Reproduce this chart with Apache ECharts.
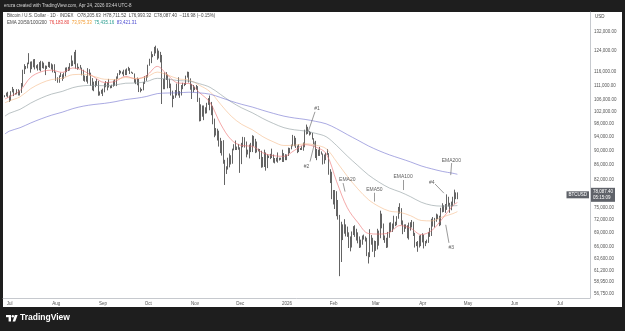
<!DOCTYPE html>
<html>
<head>
<meta charset="utf-8">
<script src="https://cdn.jsdelivr.net/npm/echarts@6.0.0/dist/echarts.min.js"></script>
<style>
html, body { margin: 0; padding: 0; background: #1e1e1e; }
#chart { width: 625px; height: 331px; }
</style>
</head>
<body>
<div id="chart"></div>
<script>
// daily BTCUSD candles in thousands of USD, one per day from firstDay on
const firstDay = '2025-06-28';
const firstOpen = 107.1;
const closes = [
  107.3, 108.4, 107.1,
  105.7, 108.8, 109.6, 108.0, 108.2, 109.2, 108.3, 108.9, 111.3, 115.9, 117.5, 117.4, 119.1, 119.8, 117.7, 118.7, 119.3, 117.9, 117.9, 117.3, 117.4, 119.9, 118.5, 118.4, 117.6, 117.9, 119.4, 118.0, 117.8, 117.8, 115.8,
  113.3, 112.5, 114.2, 115.1, 114.1, 115.0, 117.5, 116.7, 116.5, 119.3, 118.7, 120.2, 123.3, 118.3, 117.4, 117.5, 117.5, 116.3, 112.9, 114.3, 112.5, 116.9, 115.4, 113.5, 110.1, 111.8, 111.3, 112.6, 108.4, 108.8, 108.2,
  109.2, 111.2, 112.1, 110.7, 110.7, 110.2, 111.1, 112.0, 111.5, 113.9, 115.5, 116.1, 115.9, 115.3, 115.4, 116.8, 116.5, 117.1, 115.7, 115.7, 115.3, 112.7, 112.0, 113.3, 109.0, 109.6, 109.6, 112.2, 114.4, 114.1,
  118.6, 120.6, 122.3, 122.4, 123.5, 124.7, 121.4, 123.3, 121.7, 113.2, 110.7, 115.2, 115.3, 113.0, 110.8, 108.2, 106.5, 107.2, 108.6, 110.6, 108.4, 107.6, 110.1, 111.0, 111.6, 114.5, 114.1, 112.9, 110.0, 108.3, 109.6,
  110.1, 110.6, 106.5, 101.6, 103.9, 101.3, 103.4, 102.3, 104.7, 106.0, 103.0, 101.7, 99.7, 94.4, 95.5, 94.2, 92.2, 92.9, 91.5, 86.6, 85.1, 84.6, 86.8, 88.3, 87.3, 90.5, 91.3, 90.9, 90.8, 90.4,
  86.3, 91.3, 93.5, 92.1, 89.4, 89.3, 90.4, 90.6, 92.7, 92.0, 92.5, 90.3, 90.3, 88.2, 86.4, 87.8, 86.2, 85.5, 88.1, 88.3, 88.6, 88.5, 87.4, 87.6, 87.2, 87.3, 87.8, 87.8, 87.1, 88.4, 87.5,
  88.7, 89.9, 90.6, 91.4, 93.9, 93.7, 91.3, 91.0, 90.6, 90.5, 90.8, 91.2, 95.3, 97.0, 95.6, 95.5, 95.1, 93.6, 92.6, 88.3, 89.4, 89.5, 89.5, 89.2, 86.6, 88.2, 89.1, 89.2, 84.6, 84.1, 78.6,
  76.9, 78.7, 75.7, 73.1, 63.0, 70.5, 69.3, 70.6, 70.1, 68.8, 67.0, 66.2, 68.8, 69.8, 68.8, 68.9, 67.5, 66.4, 66.9, 67.9, 68.0, 67.6, 64.6, 64.1, 67.9, 67.4, 65.9, 66.9,
  65.8, 68.9, 68.2, 72.8, 70.9, 68.1, 67.3, 66.9, 68.5, 70.3, 70.7, 70.4, 71.2, 71.0, 72.6, 74.8, 74.1, 71.4, 69.9, 70.5, 70.5, 68.2, 70.9, 70.6, 71.3, 68.9, 66.4, 66.7, 66.3, 68.0, 68.2,
  68.0, 66.9, 66.9, 67.3, 69.0, 68.8, 71.9, 71.3, 72.1, 73.0, 72.6, 71.0, 74.5, 74.6, 75.1, 74.6, 77.2, 75.7, 75.3, 75.8, 76.3, 78.6, 78.20563, 78.0874
];
const highs = [
  107.6, 108.5, 108.8,
  107.5, 109.0, 110.5, 109.8, 108.4, 109.7, 109.7, 109.2, 111.9, 116.8, 118.9, 118.2, 119.5, 123.2, 119.9, 120.0, 120.8, 120.9, 118.5, 118.9, 119.7, 120.2, 120.0, 119.5, 118.4, 118.3, 119.8, 119.8, 119.2, 118.8, 118.9,
  116.1, 114.0, 114.7, 115.7, 115.1, 115.7, 117.6, 117.7, 117.9, 119.3, 122.3, 120.3, 123.7, 124.5, 119.2, 117.9, 118.6, 117.6, 116.8, 114.6, 114.5, 117.4, 117.0, 115.7, 113.7, 112.4, 112.6, 113.4, 112.7, 108.9, 109.5,
  109.9, 111.8, 112.6, 112.2, 113.4, 110.9, 111.3, 112.8, 113.3, 114.3, 115.5, 116.7, 116.4, 116.1, 116.8, 116.9, 117.3, 117.9, 117.4, 116.1, 115.8, 115.4, 113.3, 113.9, 113.4, 110.3, 109.8, 112.3, 114.4, 114.8,
  118.7, 121.0, 123.9, 122.8, 125.7, 126.2, 125.1, 124.2, 123.7, 122.5, 113.4, 115.8, 115.9, 115.0, 113.5, 111.7, 109.2, 107.5, 109.4, 111.7, 114.0, 109.0, 111.2, 112.0, 111.9, 114.6, 116.1, 116.0, 113.6, 111.6, 111.2,
  110.6, 111.2, 110.8, 106.7, 104.5, 104.1, 104.1, 103.5, 105.0, 106.6, 107.5, 105.3, 104.0, 99.8, 96.8, 96.6, 96.0, 93.8, 92.9, 93.1, 87.4, 85.6, 88.0, 89.2, 88.7, 90.6, 91.9, 93.0, 91.2, 92.0,
  91.0, 92.3, 94.1, 94.0, 92.7, 90.3, 91.8, 92.3, 94.6, 94.4, 93.5, 92.7, 90.6, 90.5, 90.0, 88.2, 90.3, 89.5, 89.0, 88.6, 89.1, 90.6, 88.9, 87.9, 88.0, 89.5, 88.0, 88.0, 90.3, 89.3, 89.0,
  88.9, 90.9, 90.8, 91.8, 94.7, 94.4, 93.8, 91.5, 91.9, 90.8, 91.3, 92.4, 96.3, 97.9, 97.2, 95.9, 95.6, 95.3, 93.7, 92.9, 90.5, 90.3, 91.1, 89.8, 89.2, 88.9, 89.4, 90.5, 89.3, 84.8, 84.1,
  79.3, 79.3, 79.0, 76.8, 73.2, 71.6, 71.0, 72.2, 71.0, 70.5, 69.2, 68.3, 69.4, 70.6, 70.8, 70.0, 69.2, 68.3, 67.6, 68.5, 68.7, 68.3, 68.0, 64.9, 69.9, 68.6, 68.0, 67.4,
  67.3, 70.0, 69.6, 74.2, 73.5, 71.2, 68.5, 68.0, 69.3, 71.4, 71.5, 71.2, 73.0, 71.6, 72.9, 75.1, 76.0, 74.8, 71.9, 71.0, 71.0, 70.8, 71.4, 71.5, 72.0, 71.6, 69.1, 67.1, 67.3, 68.5, 68.6,
  69.0, 68.7, 67.3, 67.6, 69.3, 70.2, 72.3, 72.7, 72.5, 73.5, 73.3, 73.0, 74.9, 76.0, 75.5, 75.8, 78.2, 77.6, 76.1, 76.4, 77.6, 79.4, 78.7, 78.71152
];
const lows = [
  106.9, 107.2, 106.8,
  105.3, 105.6, 108.6, 107.3, 107.8, 107.9, 107.5, 107.5, 108.4, 110.6, 115.2, 117.0, 117.3, 118.9, 115.7, 117.0, 117.7, 116.9, 117.3, 116.5, 116.6, 116.2, 117.4, 117.2, 114.8, 117.1, 117.8, 117.5, 116.9, 115.8, 115.6,
  112.7, 112.0, 112.0, 114.1, 112.7, 113.4, 114.3, 115.9, 116.3, 116.5, 118.1, 118.2, 118.9, 117.2, 116.8, 117.2, 117.2, 114.7, 112.7, 112.4, 112.4, 111.7, 114.7, 110.9, 109.3, 109.0, 110.4, 110.9, 107.4, 107.5, 108.1,
  107.3, 108.6, 110.4, 109.3, 110.3, 110.0, 110.1, 110.6, 110.9, 110.8, 113.4, 114.8, 115.4, 115.1, 114.4, 114.8, 114.8, 116.4, 115.2, 115.5, 115.2, 112.0, 111.5, 111.1, 108.7, 108.6, 109.1, 109.3, 111.6, 112.7,
  113.9, 118.3, 119.3, 121.6, 122.1, 123.1, 120.6, 121.1, 119.6, 104.6, 109.7, 109.7, 113.0, 110.0, 110.1, 107.5, 103.5, 106.3, 106.7, 107.5, 107.5, 106.7, 107.5, 109.7, 110.8, 111.2, 113.9, 112.1, 109.5, 106.3, 108.6,
  109.4, 109.5, 105.3, 98.9, 99.0, 100.4, 99.3, 101.4, 101.5, 104.3, 102.5, 100.9, 98.0, 94.0, 94.5, 93.0, 91.2, 89.3, 88.6, 86.3, 80.6, 83.5, 84.7, 85.3, 86.1, 86.3, 90.1, 90.2, 90.2, 90.3,
  83.8, 86.2, 91.0, 90.9, 88.1, 88.9, 87.8, 89.6, 89.6, 91.3, 89.3, 89.5, 89.8, 87.6, 85.2, 85.3, 85.4, 84.4, 85.1, 87.9, 87.6, 87.9, 86.6, 86.4, 86.9, 86.6, 87.2, 87.4, 86.8, 86.8, 87.3,
  87.3, 88.5, 89.3, 90.4, 91.3, 91.3, 90.8, 89.3, 89.6, 90.2, 90.2, 90.0, 91.0, 94.8, 95.0, 94.5, 94.8, 93.3, 91.9, 87.9, 87.3, 88.5, 88.5, 88.9, 86.1, 86.3, 87.3, 88.8, 83.3, 81.1, 77.0,
  75.7, 74.6, 72.9, 72.1, 60.1, 62.9, 67.5, 68.9, 68.3, 68.2, 65.8, 65.1, 65.9, 68.6, 68.2, 67.4, 66.8, 65.8, 65.9, 66.5, 67.6, 67.2, 64.1, 62.6, 63.9, 66.5, 65.0, 63.9,
  65.2, 65.5, 66.3, 67.9, 70.1, 67.5, 66.9, 65.8, 65.9, 68.0, 69.3, 69.3, 70.0, 70.6, 70.8, 72.3, 73.5, 70.9, 68.8, 69.3, 70.0, 67.9, 67.6, 69.6, 70.3, 68.4, 65.9, 66.2, 65.0, 65.9, 66.2,
  67.0, 65.7, 66.2, 66.8, 66.9, 68.2, 68.4, 70.5, 70.3, 71.6, 72.2, 70.6, 70.8, 73.8, 73.9, 73.7, 74.4, 75.2, 73.7, 74.3, 75.3, 75.9, 77.0, 76.99332
];

// EMA readings (thousands of USD) taken off the chart
const emaDates = [
  '2025-06-28', '2025-07-01', '2025-07-08', '2025-07-15', '2025-07-22', '2025-07-29',
  '2025-08-05', '2025-08-12', '2025-08-19', '2025-08-26', '2025-09-02', '2025-09-09',
  '2025-09-16', '2025-09-23', '2025-09-30', '2025-10-07', '2025-10-14', '2025-10-21',
  '2025-10-28', '2025-11-04', '2025-11-11', '2025-11-18', '2025-11-25', '2025-12-02',
  '2025-12-09', '2025-12-16', '2025-12-23', '2025-12-30', '2026-01-06', '2026-01-13',
  '2026-01-20', '2026-01-27', '2026-02-03', '2026-02-10', '2026-02-17', '2026-02-24',
  '2026-03-03', '2026-03-10', '2026-03-17', '2026-03-24', '2026-03-31', '2026-04-07',
  '2026-04-14', '2026-04-21', '2026-04-24'
];
const ema20 = [106.3, 107.06, 109.2, 113.94, 116.04, 116.62, 115.8, 117.46, 116.42, 114.14, 112.1, 112.5, 114.31, 113.4, 114.66, 118.06, 114.7, 111.88, 111.74, 108.49, 105.07, 98.08, 93.25, 91.51, 91.3, 89.38, 88.58, 88.39, 90.11, 91.77, 91.08, 89.17, 81.42, 74.91, 71.43, 68.95, 68.82, 69.16, 70.74, 70.12, 68.7, 69.61, 72.3, 75.4, 76.1838];
const ema50 = [105.0, 105.68, 107.05, 109.87, 111.88, 113.18, 113.62, 114.96, 115.07, 114.3, 113.28, 113.19, 113.9, 113.56, 114.13, 115.9, 114.8, 113.41, 112.97, 111.1, 108.81, 104.51, 100.6, 97.96, 96.29, 94.15, 92.6, 91.53, 91.6, 92.04, 91.64, 90.58, 86.8, 82.9, 79.6, 76.9, 75.2, 74.1, 73.8, 73.0, 71.9, 71.8, 72.7, 73.5, 73.97533];
const ema100 = [100.6, 101.54, 102.82, 104.89, 106.62, 108.01, 108.93, 110.26, 110.93, 111.06, 110.93, 111.19, 111.83, 111.92, 112.44, 113.61, 113.32, 112.77, 112.62, 111.66, 110.36, 107.85, 105.32, 103.29, 101.69, 99.83, 98.25, 96.93, 96.26, 95.89, 95.17, 94.14, 91.48, 88.47, 85.79, 83.26, 81.35, 79.8, 78.82, 77.6, 76.25, 75.5, 75.3, 75.38, 75.43516];
const ema200 = [95.0, 95.87, 96.92, 98.39, 99.73, 100.92, 101.88, 103.05, 103.89, 104.43, 104.82, 105.37, 106.1, 106.54, 107.18, 108.15, 108.37, 108.42, 108.64, 108.41, 107.95, 106.81, 105.56, 104.49, 103.58, 102.49, 101.49, 100.59, 99.99, 99.54, 98.92, 98.13, 96.6, 94.8, 93.1, 91.4, 90.0, 88.8, 87.8, 86.8, 85.7, 84.9, 84.2, 83.7, 83.42131];

const priceTicks = [132000, 124000, 116000, 111000, 106000, 102000, 98000, 94000, 90000, 86000, 82000, 75000, 72000, 69000, 66000, 63600, 61200, 58950, 56750];
const monthTicks = ['2025-07-01', '2025-08-01', '2025-09-01', '2025-10-01', '2025-11-01', '2025-12-01', '2026-01-01', '2026-02-01', '2026-03-01', '2026-04-01', '2026-05-01', '2026-06-01', '2026-07-01'];
const monthLabels = ['Jul', 'Aug', 'Sep', 'Oct', 'Nov', 'Dec', '2026', 'Feb', 'Mar', 'Apr', 'May', 'Jun', 'Jul'];

// hand-drawn notes: text anchor and leader line, in date / thousands of USD
const noteTexts = ['#1', '#2', 'EMA20', 'EMA50', 'EMA100', 'EMA200', '#4', '#3'];
const noteAt = [
  ['2026-01-21', 103.2], ['2026-01-14', 85.5], ['2026-02-10', 82.1], ['2026-02-28', 79.3],
  ['2026-03-19', 82.8], ['2026-04-20', 87.3], ['2026-04-07', 81.2], ['2026-04-20', 65.9]
];
const noteLeaders = [
  ['2026-01-19 14:00', 102.0, '2026-01-15 02:00', 95.7],
  ['2026-01-16 07:00', 86.9, '2026-01-19 14:00', 92.7],
  ['2026-02-07 05:00', 81.1, '2026-02-08 12:00', 78.9],
  ['2026-02-27 17:00', 78.6, '2026-02-27 17:00', 76.4],
  ['2026-03-19 02:00', 81.9, '2026-03-19 02:00', 79.3],
  ['2026-04-20 05:00', 86.5, '2026-04-19 14:00', 83.2],
  ['2026-04-09 05:00', 80.85, '2026-04-15 02:00', 78.5],
  ['2026-04-18 10:00', 66.9, '2026-04-16 07:00', 70.9]
];

const DAY = 864e5;
function ts(s) {
  return Date.parse(s.length === 10 ? s + 'T00:00:00Z' : s.replace(' ', 'T') + ':00Z');
}
function money(v) {
  return v.toLocaleString('en-US', { minimumFractionDigits: 2, maximumFractionDigits: 2 });
}

const t0 = ts(firstDay);
const candles = closes.map(function (c, i) {
  const o = i === 0 ? firstOpen : closes[i - 1];
  return [t0 + i * DAY, o * 1000, c * 1000, lows[i] * 1000, highs[i] * 1000];
});
const lastClose = closes[closes.length - 1] * 1000;

function emaSeries(name, vals, color) {
  return {
    name: name,
    type: 'line',
    z: 3,
    smooth: 0.35,
    showSymbol: false,
    silent: true,
    lineStyle: { color: color, width: 0.6 },
    data: vals.map(function (v, i) { return [ts(emaDates[i]), v * 1000]; })
  };
}

const tickTs = monthTicks.map(ts);
const fontFamily = '"Liberation Sans", Arial, sans-serif';
const hidden = 'rgba(0,0,0,0)';

const chartInstance = echarts.init(document.getElementById('chart'));
const option = {
  backgroundColor: '#1e1e1e',
  animation: false,
  textStyle: { fontFamily: fontFamily },
  graphic: [
    { type: 'rect', z: -10, silent: true, shape: { x: 3, y: 12, width: 619, height: 295 }, style: { fill: '#ffffff' } },
    { type: 'rect', silent: true, shape: { x: 6, y: 315, width: 5, height: 2.2 }, style: { fill: '#ffffff' } },
    { type: 'rect', silent: true, shape: { x: 8.6, y: 315, width: 2.4, height: 6.5 }, style: { fill: '#ffffff' } },
    { type: 'circle', silent: true, shape: { cx: 12.8, cy: 316.2, r: 1.2 }, style: { fill: '#ffffff' } },
    { type: 'polygon', silent: true, shape: { points: [[14.8, 315], [17.6, 315], [15.2, 321.5], [12.6, 321.5]] }, style: { fill: '#ffffff' } },
    { type: 'text', silent: true, left: 20, top: 313.5, style: { text: 'TradingView', fill: '#ffffff', font: '600 8.5px ' + fontFamily } }
  ],
  title: [
    {
      text: 'eruza created with TradingView.com, Apr 24, 2026 03:44 UTC-8',
      left: 4, top: 3, padding: 0,
      textStyle: { color: '#d6d6d6', fontSize: 4.5, fontWeight: 'normal' }
    },
    {
      text: 'Bitcoin / U.S. Dollar · 1D · INDEX   O78,205.63  H78,711.52  L76,993.32  C' + money(lastClose) + '  −116.98 (−0.15%)',
      left: 7, top: 13.5, padding: 0,
      textStyle: { color: '#444444', fontSize: 4.5, fontWeight: 'normal' }
    },
    {
      text: '{g|EMA 20/50/100/200}  {r|' + money(ema20[ema20.length - 1] * 1000) + '}  {o|' + money(ema50[ema50.length - 1] * 1000) +
        '}  {t|' + money(ema100[ema100.length - 1] * 1000) + '}  {b|' + money(ema200[ema200.length - 1] * 1000) + '}',
      left: 7, top: 20.5, padding: 0,
      textStyle: {
        fontSize: 4.5, fontWeight: 'normal',
        rich: {
          g: { color: '#444444', fontSize: 4.5 },
          r: { color: '#e53935', fontSize: 4.5 },
          o: { color: '#f39c32', fontSize: 4.5 },
          t: { color: '#2a9d8f', fontSize: 4.5 },
          b: { color: '#4a4ad0', fontSize: 4.5 }
        }
      }
    },
    {
      text: 'USD', left: 595, top: 14, padding: 0,
      textStyle: { color: '#444444', fontSize: 4.5, fontWeight: 'normal' }
    }
  ],
  grid: { left: 3, right: 35, top: 12, bottom: 33 },
  xAxis: {
    type: 'value',
    scale: true,
    min: ts('2025-06-26 16:30'),
    max: ts('2026-07-20 23:00'),
    axisLine: { lineStyle: { color: '#b8bbc2', width: 0.8 } },
    axisTick: { show: false },
    splitLine: { show: false },
    axisLabel: {
      customValues: tickTs,
      color: '#555555',
      fontSize: 4.5,
      margin: 3,
      formatter: function (v) {
        const i = tickTs.indexOf(v);
        return i >= 0 ? monthLabels[i] : '';
      }
    }
  },
  yAxis: {
    type: 'log',
    position: 'right',
    min: 56020,
    max: 140650,
    axisLine: { show: true, lineStyle: { color: '#b8bbc2', width: 0.8 } },
    axisTick: { show: false },
    splitLine: { show: false },
    axisLabel: {
      customValues: priceTicks,
      color: '#555555',
      fontSize: 4.5,
      margin: 4,
      formatter: function (v) { return money(v); }
    }
  },
  series: [
    {
      name: 'BTCUSD',
      type: 'candlestick',
      z: 2,
      barWidth: 1,
      silent: true,
      encode: { x: 0, y: [1, 2, 3, 4] },
      itemStyle: {
        color: '#ffffff', color0: '#3c3c3c',
        borderColor: '#3c3c3c', borderColor0: '#3c3c3c', borderWidth: 0.8
      },
      data: candles,
      markLine: {
        silent: true,
        symbol: ['none', 'none'],
        animation: false,
        data: [
          {
            yAxis: lastClose,
            lineStyle: { color: hidden, width: 0.5 },
            label: {
              show: true, position: 'end', distance: 1, formatter: money(lastClose) + '\n05:15:09',
              backgroundColor: '#5f6269', color: '#ffffff', fontSize: 4.5, lineHeight: 6, padding: [1, 2]
            }
          },
          {
            yAxis: lastClose,
            lineStyle: { color: hidden, width: 0.5 },
            label: {
              show: true, position: 'insideEnd', distance: 1, formatter: 'BTCUSD',
              backgroundColor: '#5f6269', color: '#ffffff', fontSize: 4.5, padding: [1, 2]
            }
          }
        ].concat(noteLeaders.map(function (l) {
          return [
            { coord: [ts(l[0]), l[1] * 1000], lineStyle: { color: '#555555', width: 0.6, type: 'solid' }, label: { show: false } },
            { coord: [ts(l[2]), l[3] * 1000] }
          ];
        }))
      }
    },
    emaSeries('EMA 20', ema20, '#ec6d6d'),
    emaSeries('EMA 50', ema50, '#f5bb8a'),
    emaSeries('EMA 100', ema100, '#8d9b9e'),
    emaSeries('EMA 200', ema200, '#7070cf'),
    {
      name: 'notes',
      type: 'scatter',
      z: 4,
      symbolSize: 0,
      silent: true,
      label: { show: true, position: 'inside', color: '#333333', fontSize: 5 },
      data: noteAt.map(function (n, i) {
        return { value: [ts(n[0]), n[1] * 1000], label: { formatter: noteTexts[i] } };
      })
    }
  ]
};
chartInstance.setOption(option);
</script>
</body>
</html>
